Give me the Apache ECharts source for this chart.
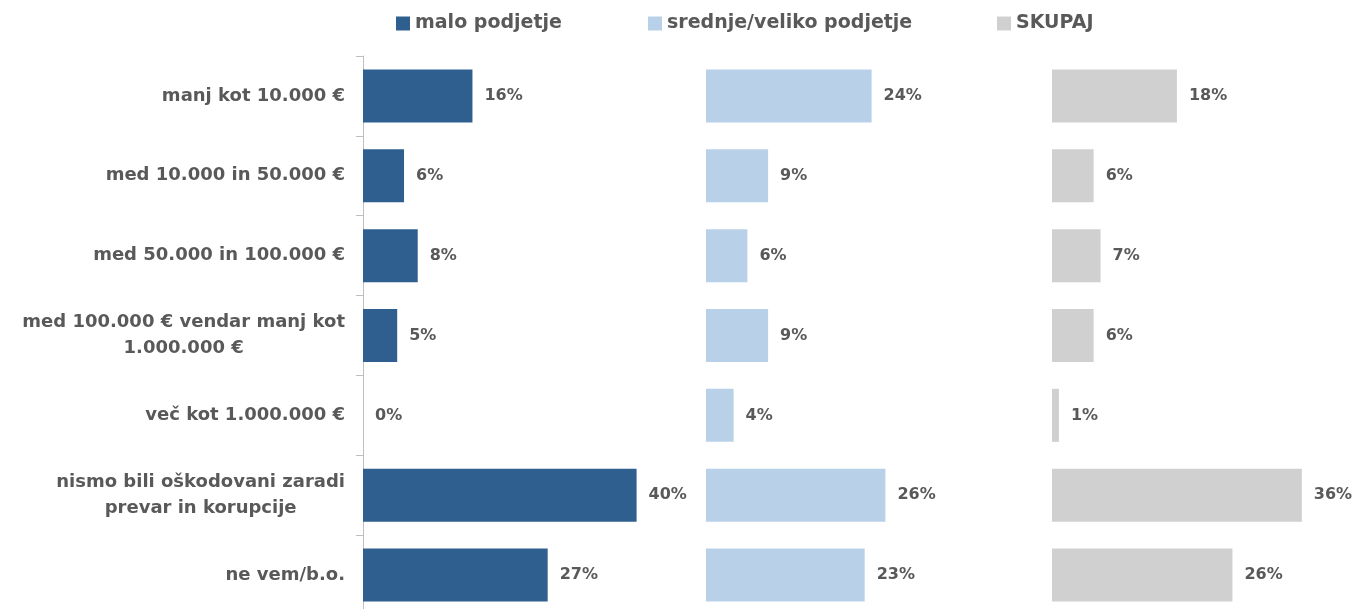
<!DOCTYPE html>
<html><head><meta charset="utf-8">
<script src="https://cdn.jsdelivr.net/npm/echarts@6/dist/echarts.min.js"></script>
<style>html,body{margin:0;padding:0;background:#fff}#c{width:1355px;height:609px}</style>
</head><body><div id="c"></div>
<script>
const categories = [
  'manj kot 10.000 €',
  'med 10.000 in 50.000 €',
  'med 50.000 in 100.000 €',
  'med 100.000 € vendar manj kot\n1.000.000 €',
  'več kot 1.000.000 €',
  'nismo bili oškodovani zaradi\nprevar in korupcije',
  'ne vem/b.o.'
];
const seriesNames = ['malo podjetje', 'srednje/veliko podjetje', 'SKUPAJ'];
const maloPodjetje = [16, 6, 8, 5, 0, 40, 27];
const srednjeVeliko = [24, 9, 6, 9, 4, 26, 23];
const skupaj = [18, 6, 7, 6, 1, 36, 26];

const FONT = "'DejaVu Sans', sans-serif";
const TXT = '#595959';
const colors = ['#2F5F8F', '#B9D1E8', '#D0D0D0'];
const panelLeft = [363, 706, 1052];
const panelWidth = [342, 345, 347];
const legendLeft = [396, 648, 997];
const values = [maloPodjetje, srednjeVeliko, skupaj];

const chart = echarts.init(document.getElementById('c'), null, {renderer: 'canvas'});
const option = {
  animation: false,
  backgroundColor: '#fff',
  legend: seriesNames.map((n, i) => ({
    data: [n], left: legendLeft[i], top: 14, padding: 0, icon: 'rect', itemWidth: 14, itemHeight: 14, itemGap: 5,
    selectedMode: false,
    textStyle: {fontFamily: FONT, fontSize: 19, fontWeight: 'bold', color: TXT}
  })),
  grid: panelLeft.map((l, i) => ({left: l, top: 56, width: panelWidth[i], height: 559, containLabel: false, outerBoundsMode: 'none'})),
  xAxis: panelLeft.map((l, i) => ({type: 'value', gridIndex: i, min: 0, max: 50, show: false})),
  yAxis: panelLeft.map((l, i) => ({
    type: 'category', gridIndex: i, data: categories, inverse: true, show: i === 0,
    axisLine: {show: true, lineStyle: {color: '#BFBFBF', width: 1}},
    axisTick: {show: true, length: 7, lineStyle: {color: '#BFBFBF'}},
    splitLine: {show: false},
    axisLabel: {
      margin: 18, fontFamily: FONT, fontSize: 18, fontWeight: 'bold', color: TXT, lineHeight: 26,
      formatter: v => v.indexOf('\n') >= 0 ? v.split('\n').map(s => '{c|' + s + '}').join('\n') : v,
      rich: {c: {align: 'center', fontFamily: FONT, fontSize: 18, fontWeight: 'bold', color: TXT, lineHeight: 26}}
    }
  })),
  series: seriesNames.map((n, i) => ({
    name: n, type: 'bar', xAxisIndex: i, yAxisIndex: i, data: values[i], barWidth: 53,
    itemStyle: {color: colors[i]},
    label: {show: true, position: 'right', distance: 12, formatter: p => Math.round(p.value) + '%',
      fontFamily: FONT, fontSize: 16, fontWeight: 'bold', color: TXT}
  }))
};
chart.setOption(option);
</script></body></html>
